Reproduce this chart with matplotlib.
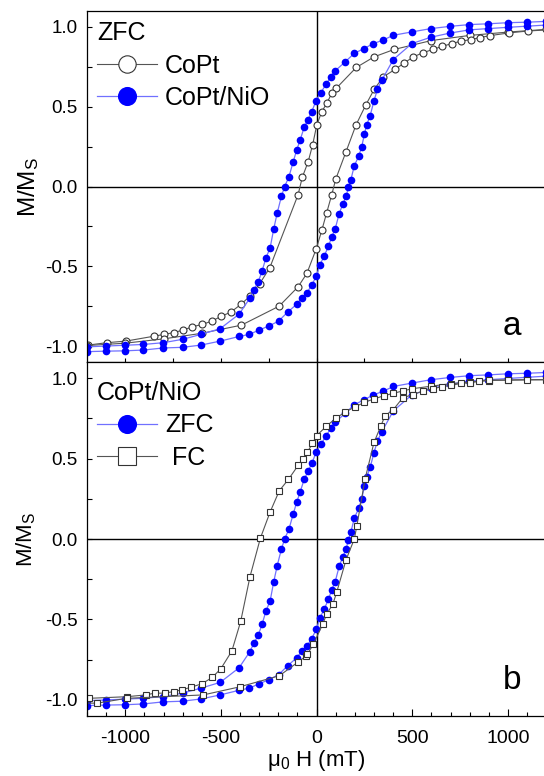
import matplotlib
matplotlib.use("Agg")
import matplotlib.pyplot as plt
from matplotlib.ticker import MultipleLocator, FormatStrFormatter

plt.rcParams["font.family"] = ["Liberation Sans", "DejaVu Sans"]
plt.rcParams["mathtext.fontset"] = "custom"
plt.rcParams["mathtext.rm"] = "Liberation Sans"
plt.rcParams["mathtext.it"] = "Liberation Sans:italic"
plt.rcParams["axes.unicode_minus"] = False

# ---- panel a: CoPt (open circles), field descending branch
copt_dn_h = [1300, 1200, 1000, 800, 600, 405, 301, 207, 102, 79, 53, 27, 1, -21, -44, -75,
             -97, -245, -297, -349, -396, -449, -498, -548, -597, -649, -698, -748, -797,
             -849, -997, -1097, -1195, -1300]
copt_dn_m = [0.99, 0.985, 0.968, 0.947, 0.915, 0.859, 0.813, 0.746, 0.615, 0.584, 0.521, 0.469,
             0.386, 0.26, 0.156, 0.057, -0.052, -0.51, -0.608, -0.688, -0.739, -0.788, -0.813,
             -0.844, -0.864, -0.879, -0.900, -0.916, -0.927, -0.938, -0.969, -0.979, -0.994, -1.0]
# CoPt ascending branch
copt_up_h = [-1300, -1200, -1000, -800, -600, -393, -196, -97, -51, -2, 27, 53, 79, 100, 154,
             206, 257, 301, 349, 410, 459, 506, 555, 607, 658, 707, 755, 806, 855, 907, 1008,
             1107, 1300]
copt_up_m = [-1.0, -0.997, -0.982, -0.955, -0.92, -0.869, -0.75, -0.629, -0.545, -0.391, -0.275,
             -0.163, -0.052, 0.046, 0.219, 0.386, 0.511, 0.609, 0.688, 0.734, 0.775, 0.813,
             0.838, 0.859, 0.879, 0.896, 0.911, 0.921, 0.934, 0.946, 0.963, 0.975, 0.988]

# ---- CoPt/NiO zero-field-cooled (filled blue), used in both panels
zfc_dn_h = [1300, 1200, 1100, 1003, 898, 799, 698, 598, 498, 401, 346, 297, 248, 196, 149, 97,
            74, 50, 22, -3, -25, -45, -65, -86, -104, -122, -145, -167, -184, -206, -224, -243,
            -265, -285, -305, -327, -349, -405, -504, -605, -701, -802, -905, -1003, -1100,
            -1200, -1300]
zfc_dn_m = [1.04, 1.035, 1.03, 1.027, 1.02, 1.015, 1.004, 0.99, 0.969, 0.948, 0.917, 0.896,
            0.865, 0.834, 0.781, 0.725, 0.688, 0.642, 0.588, 0.538, 0.47, 0.42, 0.371, 0.292,
            0.229, 0.156, 0.06, 0.0, -0.062, -0.166, -0.265, -0.385, -0.448, -0.53, -0.597,
            -0.646, -0.70, -0.80, -0.891, -0.927, -0.958, -0.979, -0.99, -0.995, -1.0, -1.005,
            -1.01]
zfc_up_h = [-1300, -1200, -1100, -1003, -905, -802, -701, -605, -504, -405, -352, -301, -251,
            -199, -152, -105, -78, -52, -26, -1, 18, 39, 62, 79, 97, 118, 137, 155, 166, 179,
            197, 220, 236, 250, 262, 280, 300, 318, 341, 401, 498, 598, 698, 799, 898, 1003,
            1100, 1200, 1300]
zfc_up_m = [-1.04, -1.035, -1.032, -1.03, -1.025, -1.012, -1.008, -0.994, -0.969, -0.94, -0.927,
            -0.90, -0.875, -0.844, -0.788, -0.739, -0.698, -0.667, -0.62, -0.56, -0.489, -0.437,
            -0.375, -0.315, -0.266, -0.17, -0.11, -0.06, -0.004, 0.042, 0.13, 0.19, 0.25, 0.33,
            0.386, 0.445, 0.537, 0.609, 0.667, 0.796, 0.896, 0.936, 0.962, 0.982, 0.99, 0.998,
            1.005, 1.012, 1.018]

# ---- panel b: CoPt/NiO field-cooled (open squares)
fc_dn_h = [1300, 1200, 1000, 900, 800, 700, 600, 500, 450, 400, 350, 300, 250, 200, 150, 100,
           50, 0, -22, -48, -69, -95, -147, -195, -243, -294, -348, -397, -443, -500, -545,
           -600, -657, -702, -748, -793, -847, -893, -993, -1189, -1300]
fc_dn_m = [0.995, 0.99, 0.988, 0.985, 0.975, 0.965, 0.95, 0.934, 0.92, 0.905, 0.89, 0.87,
           0.85, 0.82, 0.79, 0.75, 0.70, 0.642, 0.594, 0.54, 0.496, 0.46, 0.371, 0.30, 0.168,
           0.005, -0.233, -0.5125, -0.696, -0.805, -0.86, -0.90, -0.921, -0.937, -0.948, -0.958,
           -0.958, -0.969, -0.98, -0.99, -1.0]
fc_up_h = [-1300, -1146, -993, -593, -403, -195, -95, -58, -48, -17, 32, 53, 85, 105, 154, 197,
           210, 253, 300, 335, 358, 401, 450, 503, 555, 607, 654, 701, 754, 802, 851, 903, 1002,
           1100, 1300]
fc_up_m = [-1.02, -1.02, -0.99, -0.969, -0.919, -0.85, -0.763, -0.73, -0.716, -0.654, -0.529,
           -0.466, -0.404, -0.331, -0.129, 0.0, 0.079, 0.371, 0.6, 0.7, 0.767, 0.804, 0.877,
           0.898, 0.919, 0.934, 0.946, 0.954, 0.967, 0.971, 0.981, 0.9875, 0.9875, 0.99, 0.99]

gray = "#555555"
blue = "#0000ff"
lblue = "#7070ff"

fig = plt.figure(figsize=(5.44, 7.76), dpi=100)
ax1 = fig.add_axes([0.16, 0.5335, 0.844, 0.4523])
ax2 = fig.add_axes([0.16, 0.0773, 0.844, 0.4562])

circ = dict(marker="o", ms=5, mfc="white", mec="#333333", mew=0.8, color=gray, lw=0.8)
dot = dict(marker="o", ms=5.5, mfc=blue, mec=blue, mew=0, color=lblue, lw=0.9)
sq = dict(marker="s", ms=5, mfc="white", mec="#333333", mew=0.8, color=gray, lw=0.8)

ax1.plot(copt_dn_h, copt_dn_m, label="CoPt", **circ)
ax1.plot(copt_up_h, copt_up_m, **circ)
ax1.plot(zfc_dn_h, zfc_dn_m, label="CoPt/NiO", **dot)
ax1.plot(zfc_up_h, zfc_up_m, **dot)

ax2.plot(zfc_dn_h, zfc_dn_m, label="ZFC", **dot)
ax2.plot(zfc_up_h, zfc_up_m, **dot)
ax2.plot(fc_dn_h, fc_dn_m, label=" FC", **sq)
ax2.plot(fc_up_h, fc_up_m, **sq)

for ax in (ax1, ax2):
    ax.set_xlim(-1200, 1200)
    ax.set_ylim(-1.1, 1.1)
    ax.axhline(0, color="black", lw=1.0, zorder=0)
    ax.axvline(0, color="black", lw=1.0, zorder=0)
    ax.yaxis.set_major_locator(MultipleLocator(0.5))
    ax.yaxis.set_minor_locator(MultipleLocator(0.25))
    ax.yaxis.set_major_formatter(FormatStrFormatter("%.1f"))
    ax.xaxis.set_major_locator(MultipleLocator(500))
    ax.tick_params(axis="y", which="both", direction="in", length=3.5, width=0.8,
                   labelsize=13.5, pad=7)
    for s in ax.spines.values():
        s.set_linewidth(0.9)
    ax.legend(loc="upper left", frameon=False, fontsize=18, title_fontsize=18,
              alignment="left", markerscale=2.5, handlelength=2.4, handletextpad=0.32,
              labelspacing=0.34, borderaxespad=0.1, borderpad=0.3,
              bbox_to_anchor=(0, 1.0 if ax is ax1 else 0.975),
              title="ZFC" if ax is ax1 else "CoPt/NiO")

ax1.set_ylabel("M/M$_\\mathrm{S}$", fontsize=17.5, labelpad=3)
ax2.set_ylabel("M/M$_\\mathrm{S}$", fontsize=16, labelpad=5)

ax1.xaxis.set_minor_locator(MultipleLocator(250))
ax1.tick_params(axis="x", which="both", direction="inout", length=6, width=0.8,
                labelbottom=False)
ax2.xaxis.set_minor_locator(MultipleLocator(100))
ax2.tick_params(axis="x", which="major", direction="in", length=5, width=0.8,
                labelsize=14, pad=10)
ax2.tick_params(axis="x", which="minor", direction="in", length=3, width=0.8)
ax2.set_xlabel("\u03bc$_0$ H (mT)", fontsize=16, labelpad=1)

ax1.text(0.925, 0.10, "a", transform=ax1.transAxes, fontsize=24, ha="center", va="center")
ax2.text(0.925, 0.10, "b", transform=ax2.transAxes, fontsize=24, ha="center", va="center")

fig.savefig("out.png", dpi=100)
